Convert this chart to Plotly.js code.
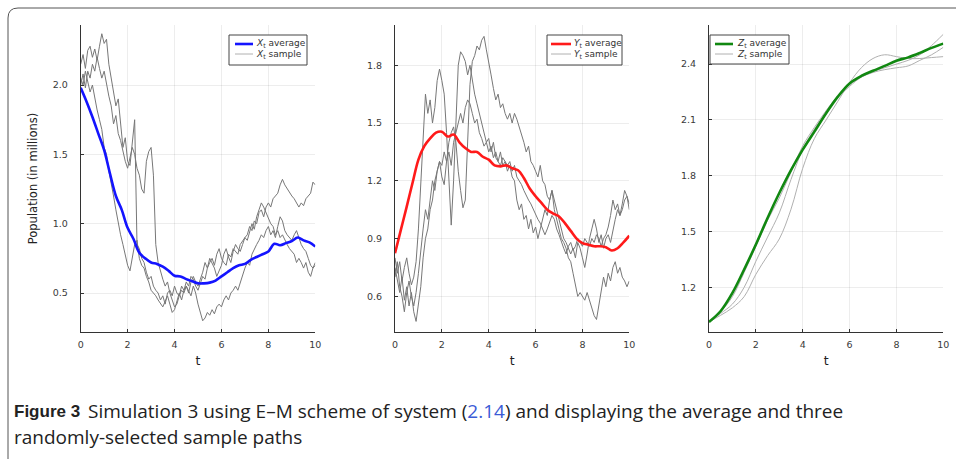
<!DOCTYPE html>
<html>
<head>
<meta charset="utf-8">
<script src="https://cdn.plot.ly/plotly-3.0.1.min.js"></script>
<style>html,body{margin:0;padding:0;background:#fff;}#chart{width:956px;height:459px;}</style>
</head>
<body>
<div id="chart"></div>
<script>
// ---------------- DATA ----------------
// Panel 1: X_t  (average sampled every 0.25, samples every 0.1)
const xAverage = [1.98,1.88,1.77,1.65,1.53,1.36,1.20,1.10,0.97,0.89,0.79,0.75,0.72,0.71,0.69,0.66,0.625,0.62,0.60,0.585,0.57,0.57,0.575,0.59,0.62,0.65,0.68,0.70,0.71,0.74,0.76,0.78,0.80,0.855,0.845,0.86,0.875,0.90,0.88,0.865,0.835];
const xSampleA = [2.05,2.00,2.10,2.02,1.95,2.00,1.90,1.82,1.75,1.68,
  1.55,1.50,1.38,1.30,1.20,1.10,1.00,0.92,0.85,0.78,
  0.70,0.66,0.75,0.85,0.88,0.75,0.70,0.68,0.62,0.58,
  0.52,0.50,0.48,0.45,0.42,0.40,0.44,0.48,0.42,0.36,
  0.38,0.45,0.50,0.45,0.52,0.55,0.50,0.58,0.62,0.58,
  0.55,0.60,0.65,0.72,0.68,0.75,0.72,0.68,0.62,0.66,
  0.70,0.78,0.82,0.76,0.72,0.80,0.85,0.82,0.80,0.85,
  0.90,0.88,0.94,1.00,0.96,1.05,1.10,1.15,1.12,1.08,
  1.05,1.00,0.98,0.92,0.95,0.90,0.92,0.88,0.85,0.82,
  0.80,0.78,0.72,0.75,0.72,0.68,0.72,0.65,0.62,0.68,0.70];
const xSampleB = [2.15,2.22,2.12,2.25,2.28,2.20,2.26,2.18,2.28,2.37,
  2.30,2.33,2.15,2.05,1.95,1.85,1.90,1.70,1.55,1.62,
  1.45,1.42,1.60,1.75,0.85,0.82,0.75,0.72,0.65,0.60,
  0.62,0.55,0.52,0.50,0.45,0.48,0.42,0.50,0.52,0.48,
  0.55,0.50,0.48,0.55,0.52,0.58,0.55,0.62,0.60,0.55,
  0.52,0.58,0.62,0.60,0.68,0.72,0.75,0.70,0.78,0.82,
  0.75,0.72,0.70,0.78,0.76,0.82,0.80,0.78,0.85,0.88,
  0.90,0.92,0.98,0.95,1.02,1.00,1.08,1.10,1.05,1.12,
  1.15,1.12,1.18,1.20,1.22,1.28,1.32,1.28,1.25,1.22,
  1.20,1.18,1.15,1.12,1.15,1.13,1.18,1.20,1.22,1.30,1.28];
const xSampleC = [2.00,2.08,1.98,2.10,2.05,2.15,2.10,2.20,2.12,2.05,
  2.10,2.00,1.92,1.85,1.72,1.78,1.65,1.60,1.52,1.45,
  1.40,1.48,1.55,1.50,1.40,1.35,1.25,1.22,1.45,1.52,
  1.55,1.35,0.85,0.72,0.65,0.60,0.55,0.58,0.50,0.45,
  0.40,0.42,0.48,0.52,0.50,0.55,0.52,0.48,0.55,0.50,
  0.42,0.35,0.30,0.32,0.36,0.34,0.38,0.35,0.40,0.42,
  0.40,0.45,0.48,0.45,0.50,0.52,0.55,0.52,0.58,0.62,
  0.68,0.72,0.70,0.78,0.82,0.85,0.88,0.92,0.90,0.95,
  0.98,0.92,0.95,0.90,0.98,1.05,1.02,0.95,0.92,0.90,
  0.88,0.92,0.95,0.90,0.85,0.82,0.80,0.75,0.70,0.68,0.72];

// Panel 2: Y_t
const yAverage = [0.824,0.945,1.066,1.19,1.31,1.38,1.42,1.45,1.455,1.43,1.44,1.40,1.37,1.35,1.35,1.325,1.31,1.28,1.275,1.28,1.265,1.255,1.215,1.16,1.12,1.085,1.05,1.03,1.015,0.98,0.94,0.90,0.876,0.868,0.86,0.86,0.855,0.838,0.85,0.88,0.915];
const ySampleA = [0.80,0.72,0.78,0.68,0.75,0.80,0.72,0.66,0.70,0.78,
  0.95,1.20,1.45,1.65,1.55,1.62,1.50,1.58,1.72,1.78,
  1.72,1.65,1.45,1.20,0.97,1.20,1.55,1.80,1.87,1.85,
  1.82,1.75,1.80,1.72,1.65,1.60,1.55,1.50,1.45,1.40,
  1.42,1.35,1.40,1.32,1.30,1.35,1.28,1.30,1.25,1.28,
  1.22,1.20,1.10,1.05,1.08,1.00,1.02,0.95,1.00,0.93,
  0.96,0.90,0.95,1.00,1.05,1.02,1.10,1.15,1.10,1.05,
  1.00,0.95,0.90,0.88,0.85,0.82,0.85,0.80,0.88,0.85,
  0.80,0.75,0.82,0.90,0.95,1.00,0.95,0.88,0.92,0.85,
  0.90,0.92,0.88,0.95,1.00,1.05,1.02,1.08,1.15,1.12,1.05];
const ySampleB = [0.75,0.68,0.62,0.70,0.58,0.65,0.55,0.62,0.52,0.47,
  0.55,0.65,0.80,0.90,0.95,1.05,1.10,1.20,1.25,1.30,
  1.28,1.35,1.30,1.40,1.45,1.48,1.40,1.25,1.15,1.06,
  1.10,1.40,1.70,1.82,1.85,1.90,1.88,1.93,1.95,1.88,
  1.82,1.75,1.68,1.62,1.65,1.58,1.60,1.55,1.52,1.55,
  1.50,1.55,1.52,1.48,1.45,1.40,1.35,1.38,1.30,1.28,
  1.25,1.22,1.28,1.20,1.18,1.12,1.10,1.15,1.05,1.00,
  0.95,0.90,0.88,0.85,0.80,0.78,0.72,0.65,0.60,0.62,
  0.60,0.58,0.62,0.58,0.55,0.50,0.48,0.55,0.62,0.70,
  0.65,0.72,0.68,0.75,0.78,0.72,0.75,0.70,0.68,0.65,0.68];
const ySampleC = [0.70,0.78,0.65,0.60,0.52,0.62,0.68,0.60,0.55,0.62,
  0.72,0.85,0.95,1.05,1.00,1.10,1.20,1.15,1.25,1.30,
  1.22,1.18,1.30,1.35,1.28,1.40,1.45,1.50,1.55,1.50,
  1.58,1.62,1.60,1.55,1.50,1.52,1.45,1.42,1.38,1.40,
  1.35,1.38,1.32,1.35,1.30,1.28,1.32,1.30,1.28,1.30,
  1.25,1.28,1.22,1.20,1.18,1.15,1.12,1.10,1.08,1.05,
  1.02,1.00,0.98,0.95,0.92,0.95,0.98,1.02,1.00,0.95,
  0.92,0.88,0.85,0.82,0.86,0.88,0.84,0.86,0.90,0.88,
  0.86,0.90,0.88,0.86,0.90,0.88,0.92,0.90,0.86,0.90,
  0.92,0.96,1.02,1.10,1.05,1.08,1.02,1.05,1.10,1.12,1.08];

// Panel 3: Z_t (every 0.5)
const zAverage = [1.014,1.073,1.17,1.296,1.43,1.573,1.707,1.83,1.94,2.037,2.136,2.225,2.296,2.336,2.364,2.39,2.418,2.436,2.46,2.487,2.51];
const zSampleA = [1.014,1.05,1.09,1.15,1.27,1.37,1.46,1.62,1.84,2.00,2.10,2.20,2.30,2.38,2.43,2.45,2.44,2.43,2.43,2.435,2.44];
const zSampleB = [1.014,1.06,1.11,1.20,1.34,1.47,1.60,1.78,1.94,2.05,2.14,2.22,2.28,2.33,2.36,2.38,2.40,2.42,2.45,2.50,2.56];
const zSampleC = [1.014,1.07,1.15,1.28,1.42,1.56,1.68,1.82,1.96,2.06,2.15,2.23,2.29,2.33,2.355,2.37,2.38,2.39,2.42,2.45,2.49];

// Labels
const legendAverage = ['<i>X</i><sub>t</sub> average','<i>Y</i><sub>t</sub> average','<i>Z</i><sub>t</sub> average'];
const legendSample  = ['<i>X</i><sub>t</sub> sample','<i>Y</i><sub>t</sub> sample','<i>Z</i><sub>t</sub> sample'];
const yTitle = 'Population (in millions)';
const xTitle = 't';
const captionBold = 'Figure 3';
const captionLine1 = 'Simulation 3 using E–M scheme of system (<span style="color:#3b5bd6">2.14</span>) and displaying the average and three';
const captionLine2 = 'randomly-selected sample paths';

// ---------------- STYLE / LAYOUT ----------------
const W = 956, H = 459;
const px = v => v / W;
const py = v => 1 - v / H;
const avgColors = ['#1414ff', '#ff1a1a', '#118811'];
const sampleColor = ['#777777', '#777777', '#b0b0b0'];

const traces = [];
function addSamples(list, xa, ya, dx, color, spline) {
  list.forEach(s => traces.push({
    type: 'scatter', mode: 'lines', y: s, x0: 0, dx: dx,
    xaxis: xa, yaxis: ya, showlegend: false, hoverinfo: 'skip',
    line: {color: color, width: 1, shape: spline ? 'spline' : 'linear'}
  }));
}
function addAvg(vals, xa, ya, dx, color) {
  traces.push({
    type: 'scatter', mode: 'lines', y: vals, x0: 0, dx: dx,
    xaxis: xa, yaxis: ya, showlegend: false,
    line: {color: color, width: 2.6, shape: 'spline'}
  });
}
addSamples([xSampleA, xSampleB, xSampleC], 'x', 'y', 0.1, sampleColor[0], false);
addAvg(xAverage, 'x', 'y', 0.25, avgColors[0]);
addSamples([ySampleA, ySampleB, ySampleC], 'x2', 'y2', 0.1, sampleColor[1], false);
addAvg(yAverage, 'x2', 'y2', 0.25, avgColors[1]);
addSamples([zSampleA, zSampleB, zSampleC], 'x3', 'y3', 0.5, sampleColor[2], true);
addAvg(zAverage, 'x3', 'y3', 0.5, avgColors[2]);

const tickFont = {family: 'DejaVu Sans, sans-serif', size: 9.5, color: '#3a3a3a'};
function xAx(dom, anchor) {
  return {domain: dom, anchor: anchor, range: [0, 10], dtick: 2, tick0: 0,
    showline: true, linecolor: '#333', linewidth: 1, mirror: false,
    ticks: 'inside', ticklen: 3, tickcolor: '#333', tickfont: tickFont, ticklabelstandoff: 4,
    showgrid: true, gridcolor: 'rgba(0,0,0,0.07)', gridwidth: 1, zeroline: false,
    title: {text: xTitle, font: {family: 'DejaVu Sans, sans-serif', size: 12.5, color: '#222'}, standoff: 6}};
}
function yAx(dom, anchor, range, dtick, title) {
  const ax = {domain: dom, anchor: anchor, range: range, dtick: dtick, tick0: 0, tickformat: '.1f',
    showline: true, linecolor: '#333', linewidth: 1,
    ticks: 'inside', ticklen: 3, tickcolor: '#333', tickfont: tickFont, ticklabelstandoff: 10,
    showgrid: true, gridcolor: 'rgba(0,0,0,0.07)', gridwidth: 1, zeroline: false};
  if (title) ax.title = {text: title, font: {family: 'DejaVu Sans, sans-serif', size: 11.5, color: '#222'}, standoff: 12};
  return ax;
}
const yDom = [py(332), py(25)];

// Legend boxes (px): [left, top, right, bottom, lineStart, lineEnd, textStart]
const legendBoxes = [
  [229, 35, 307, 65, 235, 253, 254],
  [547, 35, 622, 65, 551, 571, 572],
  [710, 35, 789, 64, 715, 733, 735]
];
const shapes = [];
const annotations = [];
legendBoxes.forEach((b, i) => {
  shapes.push({type: 'rect', xref: 'paper', yref: 'paper', x0: px(b[0]), x1: px(b[2]), y0: py(b[3]), y1: py(b[1]),
    line: {color: '#444', width: 1}, fillcolor: '#fff', layer: 'above'});
  const r1 = b[1] + 9, r2 = b[1] + 19;
  shapes.push({type: 'line', xref: 'paper', yref: 'paper', x0: px(b[4]), x1: px(b[5]), y0: py(r1), y1: py(r1),
    line: {color: avgColors[i], width: 2.6}, layer: 'above'});
  shapes.push({type: 'line', xref: 'paper', yref: 'paper', x0: px(b[4]), x1: px(b[5]), y0: py(r2), y1: py(r2),
    line: {color: '#b0b0b0', width: 1}, layer: 'above'});
  [[legendAverage[i], r1], [legendSample[i], r2]].forEach(([txt, r]) => annotations.push({
    xref: 'paper', yref: 'paper', x: px(b[6]), y: py(r), xanchor: 'left', yanchor: 'middle',
    text: txt, showarrow: false, font: {family: 'DejaVu Sans, sans-serif', size: 9, color: '#333'}
  }));
});
// outer rounded frame
const fx = px(8), fy = py(8), rx = px(18), ry = py(18);
shapes.push({type: 'path', xref: 'paper', yref: 'paper',
  path: `M ${fx},-0.2 L ${fx},${ry} Q ${fx},${fy} ${rx},${fy} L 1.2,${fy}`,
  line: {color: '#555', width: 1}});
// caption
const capFont = {family: 'Open Sans, Noto Sans, sans-serif', size: 19, color: '#222'};
annotations.push({xref: 'paper', yref: 'paper', x: px(12), y: py(411), xanchor: 'left', yanchor: 'middle',
  text: captionBold, showarrow: false, font: {family: 'Liberation Sans, Arial, sans-serif', size: 17, color: '#222', weight: 'bold'}});
annotations.push({xref: 'paper', yref: 'paper', x: px(86), y: py(411), xanchor: 'left', yanchor: 'middle',
  text: captionLine1, showarrow: false, font: capFont});
annotations.push({xref: 'paper', yref: 'paper', x: px(12), y: py(437), xanchor: 'left', yanchor: 'middle',
  text: captionLine2, showarrow: false, font: capFont});

const layout = {
  width: W, height: H, margin: {l: 0, r: 0, t: 0, b: 0},
  paper_bgcolor: '#fff', plot_bgcolor: '#fff', showlegend: false,
  xaxis: xAx([px(80.7), px(315.3)], 'y'),
  yaxis: yAx(yDom, 'x', [0.219, 2.433], 0.5, yTitle),
  xaxis2: xAx([px(395), px(629.3)], 'y2'),
  yaxis2: yAx(yDom, 'x2', [0.415, 2.009], 0.3, null),
  xaxis3: xAx([px(709), px(943.3)], 'y3'),
  yaxis3: yAx(yDom, 'x3', [0.96, 2.61], 0.3, null),
  shapes: shapes, annotations: annotations
};
Plotly.newPlot('chart', traces, layout, {displayModeBar: false, staticPlot: true});
</script>
</body>
</html>
